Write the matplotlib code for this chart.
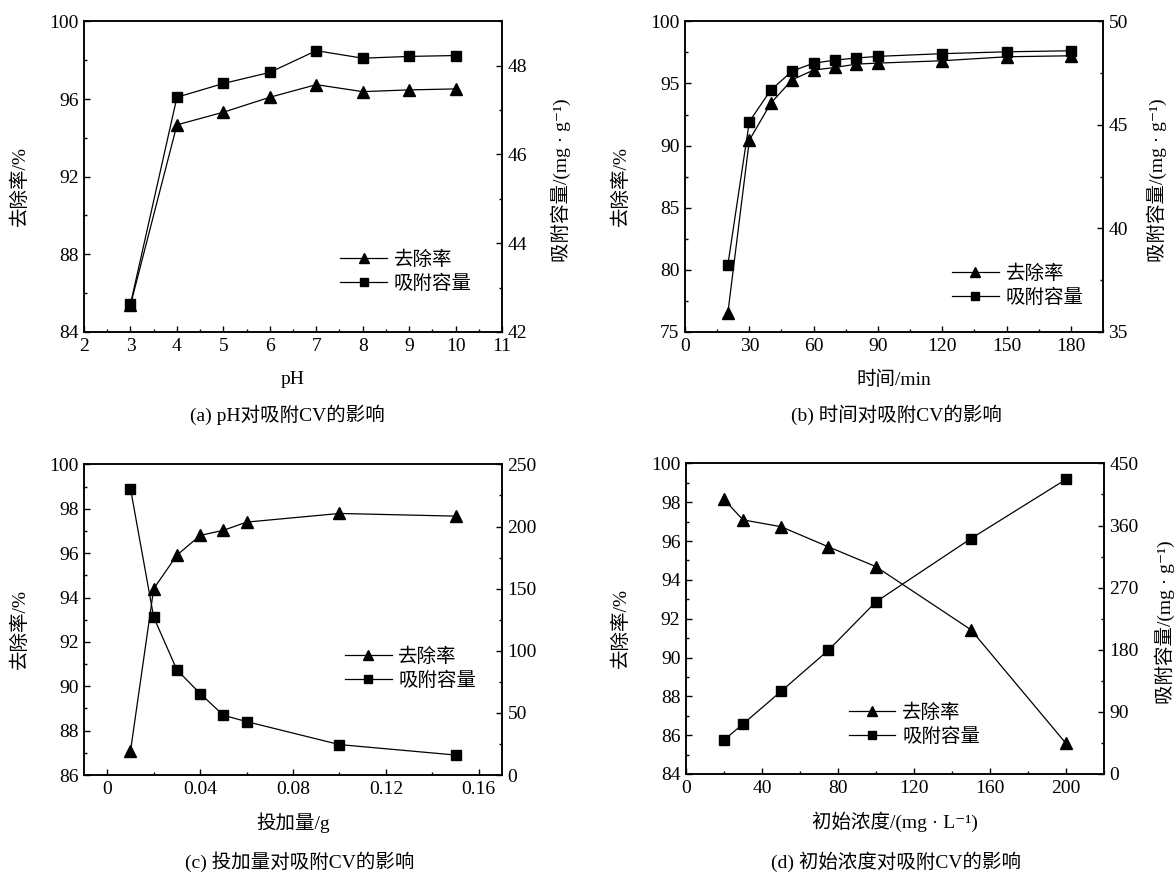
import matplotlib
matplotlib.use("Agg")
import matplotlib.pyplot as plt
from matplotlib.ticker import MultipleLocator, FuncFormatter

plt.rcParams['font.family'] = ['Liberation Serif', 'Noto Sans CJK SC', 'DejaVu Serif']
plt.rcParams['font.size'] = 14
plt.rcParams['axes.linewidth'] = 1.1

# (a) pH
ph = [3, 4, 5, 6, 7, 8, 9, 10]
ph_removal = [85.40, 94.67, 95.32, 96.09, 96.74, 96.38, 96.47, 96.52]
ph_capacity = [42.63, 47.29, 47.60, 47.85, 48.34, 48.17, 48.21, 48.23]

# (b) time
time = [20, 30, 40, 50, 60, 70, 80, 90, 120, 150, 180]
time_removal = [76.55, 90.43, 93.41, 95.30, 96.08, 96.29, 96.56, 96.64, 96.83, 97.15, 97.23]
time_capacity = [38.25, 45.16, 46.68, 47.60, 47.98, 48.13, 48.23, 48.31, 48.44, 48.53, 48.58]

# (c) dose
dose = [0.01, 0.02, 0.03, 0.04, 0.05, 0.06, 0.10, 0.15]
dose_removal = [87.08, 94.40, 95.91, 96.80, 97.03, 97.40, 97.79, 97.67]
dose_capacity = [230.5, 127.0, 84.6, 65.6, 48.1, 43.0, 24.5, 16.1]

# (d) initial concentration
conc = [20, 30, 50, 75, 100, 150, 200]
conc_removal = [98.15, 97.09, 96.74, 95.70, 94.68, 91.43, 85.58]
conc_capacity = [49.2, 72.4, 119.6, 179.4, 249.4, 341.0, 426.8]

lbl_removal = '去除率'
lbl_capacity = '吸附容量'
ylab_left = '去除率/%'
ylab_right = '吸附容量/(mg · g⁻¹)'

fig = plt.figure(figsize=(11.74, 8.72), dpi=100)


def style(ax, which):
    ax.tick_params(axis='both', which='major', direction='in', length=4, width=1, pad=4)
    ax.tick_params(axis='both', which='minor', direction='in', length=2.2, width=1)
    if which == 'left':
        ax.tick_params(right=False, top=False, which='both')
    else:
        ax.tick_params(left=False, top=False, bottom=False, which='both')


def panel(rect, x, y1, y2, xlim, xmaj, xmin, y1lim, y1maj, y1min, y2lim, y2maj, y2min,
          xlabel, caption, cap_xy, leg_xy, rlab_x, xfmt=None, right_label=True):
    ax = fig.add_axes(rect)
    ax2 = ax.twinx()
    l1, = ax.plot(x, y1, color='black', lw=0.9, marker='^', ms=9, zorder=3)
    l2, = ax2.plot(x, y2, color='black', lw=0.9, marker='s', ms=7.5, zorder=3)
    ax.set_xlim(*xlim)
    ax.set_ylim(*y1lim)
    ax2.set_ylim(*y2lim)
    ax.xaxis.set_major_locator(MultipleLocator(xmaj))
    ax.xaxis.set_minor_locator(MultipleLocator(xmin))
    ax.yaxis.set_major_locator(MultipleLocator(y1maj))
    ax.yaxis.set_minor_locator(MultipleLocator(y1min))
    ax2.yaxis.set_major_locator(MultipleLocator(y2maj))
    ax2.yaxis.set_minor_locator(MultipleLocator(y2min))
    if xfmt is not None:
        ax.xaxis.set_major_formatter(FuncFormatter(xfmt))
    style(ax, 'left')
    style(ax2, 'right')
    ax.set_xlabel(xlabel)
    ax.xaxis.label.set_va('center')
    ax.xaxis.set_label_coords(0.5, -0.154)
    ax.set_ylabel(ylab_left)
    ax.yaxis.label.set_va('center')
    ax.yaxis.set_label_coords(-0.155, 0.47)
    if right_label:
        ax2.set_ylabel(ylab_right)
        ax2.yaxis.label.set_va('center')
        ax2.yaxis.set_label_coords(rlab_x, 0.49)
    ax2.legend([l1, l2], [lbl_removal, lbl_capacity], loc='center left',
               bbox_to_anchor=leg_xy, frameon=False, handlelength=2.4,
               handletextpad=0.35, labelspacing=0.3, borderpad=0,
               borderaxespad=0, markerscale=0.85, fontsize=14)
    fig.text(cap_xy[0], cap_xy[1], caption, ha='center', va='center', fontsize=14)
    return ax, ax2


W, H = 0.3560, 0.3562

panel([0.0716, 0.6193, W, H], ph, ph_removal, ph_capacity,
      (2, 11), 1, 0.5, (84, 100), 4, 2, (42, 49), 2, 1,
      'pH', '(a) pH对吸附CV的影响', (0.245, 0.524), (0.613, 0.195), 1.141)

panel([0.5835, 0.6193, W, H], time, time_removal, time_capacity,
      (0, 195), 30, 15, (75, 100), 5, 2.5, (35, 50), 5, 2.5,
      '时间/min', '(b) 时间对吸附CV的影响', (0.764, 0.524), (0.639, 0.15), 1.13)

panel([0.0716, 0.1112, W, H], dose, dose_removal, dose_capacity,
      (-0.01, 0.17), 0.04, 0.02, (86, 100), 2, 1, (0, 250), 50, 25,
      '投加量/g', '(c) 投加量对吸附CV的影响', (0.255, 0.012), (0.624, 0.343), 1.14,
      xfmt=lambda v, p: '0' if abs(v) < 1e-9 else '%.2f' % v, right_label=False)

panel([0.5843, 0.1124, W, H], conc, conc_removal, conc_capacity,
      (0, 220), 40, 20, (84, 100), 2, 1, (0, 450), 90, 45,
      '初始浓度/(mg · L⁻¹)', '(d) 初始浓度对吸附CV的影响', (0.763, 0.012), (0.389, 0.158), 1.146)

fig.savefig('out.png', dpi=100)
